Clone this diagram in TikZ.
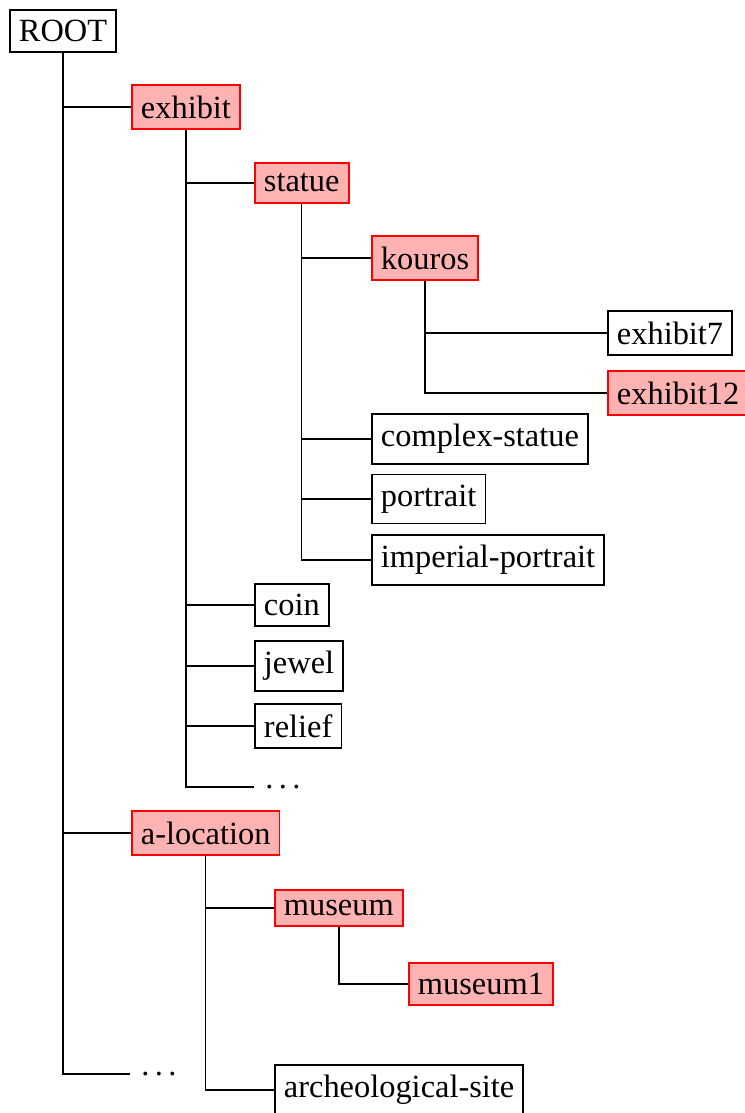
\documentclass[tikz,border=0pt]{standalone}
\usepackage{fontspec}
\setmainfont{Liberation Serif}
\newcommand{\spdots}{.\kern.1666em.\kern.1666em.}
\begin{document}
\begin{tikzpicture}[x=0.3086pt,y=-0.3086pt,
  every node/.style={font=\fontsize{10}{12}\selectfont},
  plain/.style={draw=black,line width=0.55pt,anchor=west,inner xsep=2.8pt,inner ysep=3.2pt},
  hl/.style={draw=red,line width=0.55pt,fill=red!30,anchor=west,inner xsep=2.8pt,inner ysep=3.2pt},
  more/.style={anchor=west,inner sep=3.3pt},
  conn/.style={draw=black,line width=0.4pt}]
\useasboundingbox (0,0) rectangle (744,1113);
\node[plain] (root) at (9,31) {ROOT};
\node[hl] (exhibit) at (131,107) {exhibit};
\node[hl] (statue) at (254,183) {statue};
\node[hl] (kouros) at (371,258) {kouros};
\node[plain] (ex7) at (607,333) {exhibit7};
\node[hl] (ex12) at (607,393) {exhibit12};
\node[plain] (complex) at (371,439) {complex-statue};
\node[plain] (portrait) at (371,499) {portrait};
\node[plain] (imperial) at (371,560) {imperial-portrait};
\node[plain] (coin) at (254,605) {coin};
\node[plain] (jewel) at (254,666) {jewel};
\node[plain] (relief) at (254,726) {relief};
\node[more] (dots1) at (254,787) {\spdots};
\node[hl] (aloc) at (131,833) {a-location};
\node[hl] (museum) at (274,908) {museum};
\node[hl] (museum1) at (408,984) {museum1};
\node[plain] (arch) at (274,1090) {archeological-site};
\node[more] (dots2) at (130,1074) {\spdots};
\draw[conn] (root.south) |- (exhibit.west);
\draw[conn] (root.south) |- (aloc.west);
\draw[conn] (root.south) |- (dots2.west);
\draw[conn] (exhibit.south) |- (statue.west);
\draw[conn] (exhibit.south) |- (coin.west);
\draw[conn] (exhibit.south) |- (jewel.west);
\draw[conn] (exhibit.south) |- (relief.west);
\draw[conn] (exhibit.south) |- (dots1.west);
\draw[conn] (statue.south) |- (kouros.west);
\draw[conn] (statue.south) |- (complex.west);
\draw[conn] (statue.south) |- (portrait.west);
\draw[conn] (statue.south) |- (imperial.west);
\draw[conn] (kouros.south) |- (ex7.west);
\draw[conn] (kouros.south) |- (ex12.west);
\draw[conn] (aloc.south) |- (museum.west);
\draw[conn] (aloc.south) |- (arch.west);
\draw[conn] (museum.south) |- (museum1.west);
\end{tikzpicture}
\end{document}
